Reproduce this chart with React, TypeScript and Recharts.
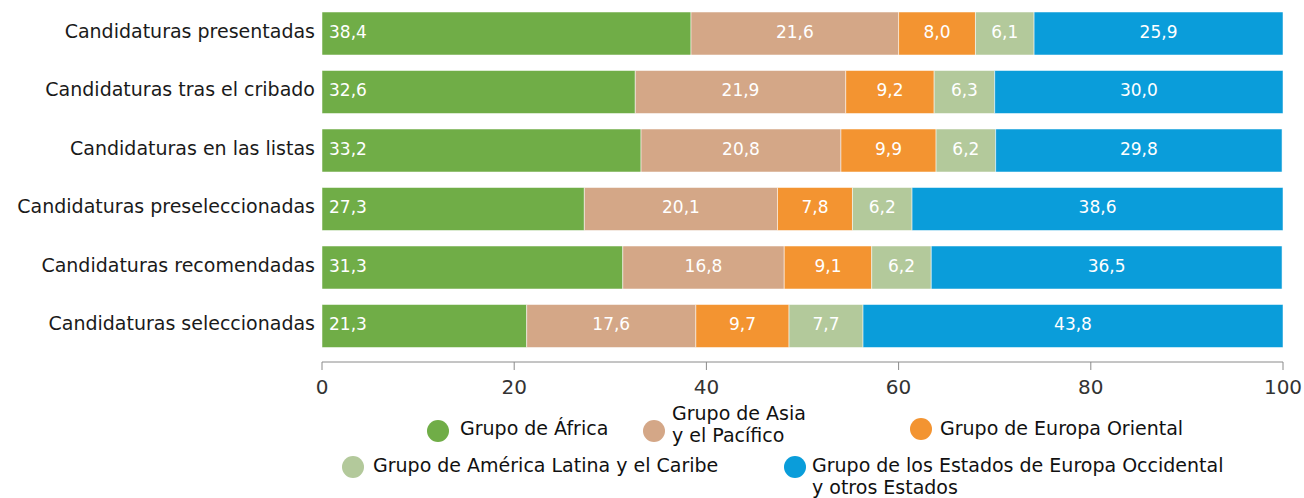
import React from "react";
import { BarChart, Bar, XAxis, YAxis, LabelList } from "recharts";

const categories = [
  "Candidaturas presentadas",
  "Candidaturas tras el cribado",
  "Candidaturas en las listas",
  "Candidaturas preseleccionadas",
  "Candidaturas recomendadas",
  "Candidaturas seleccionadas",
];

const africa = [38.4, 32.6, 33.2, 27.3, 31.3, 21.3];
const asiaPacifico = [21.6, 21.9, 20.8, 20.1, 16.8, 17.6];
const europaOriental = [8.0, 9.2, 9.9, 7.8, 9.1, 9.7];
const americaLatina = [6.1, 6.3, 6.2, 6.2, 6.2, 7.7];
const europaOccidental = [25.9, 30.0, 29.8, 38.6, 36.5, 43.8];

const xTicks = [0, 20, 40, 60, 80, 100];

const FONT = "'DejaVu Sans', sans-serif";

const series = [
  { key: "africa", color: "#70AD47" },
  { key: "asia", color: "#D4A787" },
  { key: "eo", color: "#F39431" },
  { key: "alc", color: "#B3C99B" },
  { key: "weog", color: "#0A9DDA" },
];

const data = categories.map((name, i) => ({
  name,
  africa: africa[i],
  asia: asiaPacifico[i],
  eo: europaOriental[i],
  alc: americaLatina[i],
  weog: europaOccidental[i],
}));

const fmt = (v: any) => Number(v).toFixed(1).replace(".", ",");

const legendItems = [
  { color: "#70AD47", lines: ["Grupo de África"], cx: 438, cy: 431, tx: 460, ty: 428 },
  { color: "#D4A787", lines: ["Grupo de Asia", "y el Pacífico"], cx: 654, cy: 431, tx: 672, ty: 413 },
  { color: "#F39431", lines: ["Grupo de Europa Oriental"], cx: 921, cy: 429, tx: 940, ty: 428 },
  { color: "#B3C99B", lines: ["Grupo de América Latina y el Caribe"], cx: 353, cy: 467, tx: 373, ty: 465 },
  {
    color: "#0A9DDA",
    lines: ["Grupo de los Estados de Europa Occidental", "y otros Estados"],
    cx: 795,
    cy: 467,
    tx: 812,
    ty: 465,
  },
];

export default function App() {
  return (
    <div style={{ position: "absolute", left: 0, top: 0, width: 1304, height: 498, fontFamily: FONT }}>
      <BarChart
        width={1304}
        height={498}
        data={data}
        layout="vertical"
        margin={{ top: 4, right: 21, left: 0, bottom: 106 }}
        barSize={43}
      >
        <XAxis
          type="number"
          domain={[0, 100]}
          ticks={xTicks}
          allowDataOverflow
          height={30}
          tickSize={8}
          tickMargin={10}
          stroke="#8a8a8a"
          tick={{ fill: "#333", fontSize: 20, fontFamily: FONT }}
        />
        <YAxis
          type="category"
          dataKey="name"
          width={322}
          axisLine={false}
          tickLine={false}
          tickSize={0}
          tickMargin={7}
          padding={{ top: 0, bottom: 7 }}
          tick={{ fill: "#1a1a1a", fontSize: 19, fontFamily: FONT, dy: -2 }}
        />
        {series.map((s, idx) => (
          <Bar
            key={s.key}
            dataKey={s.key}
            stackId="a"
            fill={s.color}
            stroke="#ffffff"
            strokeOpacity={0.5}
            strokeWidth={1}
            isAnimationActive={false}
          >
            <LabelList
              dataKey={s.key}
              position={idx === 0 ? "insideLeft" : "center"}
              offset={7}
              formatter={fmt}
              fill="#ffffff"
              fontSize={17}
              fontFamily={FONT}
              dy={-2}
            />
          </Bar>
        ))}
      </BarChart>
      {legendItems.map((item) => (
        <React.Fragment key={item.lines[0]}>
          <div
            style={{
              position: "absolute",
              left: item.cx - 11,
              top: item.cy - 11,
              width: 22,
              height: 22,
              borderRadius: "50%",
              background: item.color,
            }}
          />
          <div
            style={{
              position: "absolute",
              left: item.tx,
              top: item.ty - 11,
              fontSize: 19,
              lineHeight: "22px",
              color: "#111",
              whiteSpace: "nowrap",
            }}
          >
            {item.lines.map((l) => (
              <div key={l}>{l}</div>
            ))}
          </div>
        </React.Fragment>
      ))}
    </div>
  );
}
